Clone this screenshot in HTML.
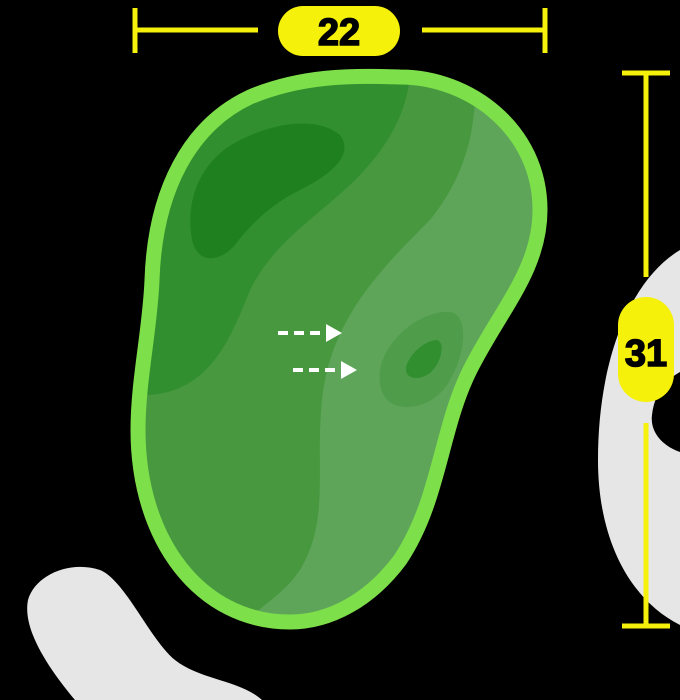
<!DOCTYPE html>
<html><head><style>html,body{margin:0;padding:0;background:#000;width:680px;height:700px;overflow:hidden}</style></head>
<body>
<svg width="680" height="700" viewBox="0 0 680 700" xmlns="http://www.w3.org/2000/svg">
<rect width="680" height="700" fill="#000"/>
<defs>
<clipPath id="g"><path d="M400,77 C470,77 540,130 540,210 C540,270 500,310 470,370 C440,430 440,500 400,560 C370,600 330,622 290,622 C200,622 138,540 138,430 C138,380 150,330 152,280 C155,190 190,125 250,97 C300,76 350,75 400,77 Z"/></clipPath>
</defs>
<path d="M680,250 C630,280 598,360 598,460 C598,540 630,600 680,625 L680,452 C660,445 650,430 652,415 C654,395 665,380 680,372 Z" fill="#e6e6e6"/>
<path d="M28,600 C35,575 70,560 100,570 C125,580 150,640 175,660 C200,680 240,680 262,700 L75,700 C50,670 22,630 28,600 Z" fill="#e6e6e6"/>
<g clip-path="url(#g)">
<rect x="120" y="60" width="440" height="580" fill="#5ea55a"/>
<path d="M120,60 L475,60 C478,120 470,170 430,220 C380,270 330,320 322,400 C315,470 330,520 300,570 C280,600 250,610 230,640 L120,640 Z" fill="#47983f"/>
<path d="M120,60 L410,60 C412,100 395,140 355,180 C320,215 275,240 250,290 C230,340 210,390 150,395 L120,395 Z" fill="#318f2f"/>
<path d="M192,240 C185,200 200,160 240,140 C280,120 320,118 340,135 C355,155 330,175 300,190 C270,205 250,225 235,245 C220,262 198,265 192,240 Z" fill="#1f801f"/>
<path d="M380,370 C385,340 420,310 450,312 C470,315 465,355 450,380 C440,400 415,412 395,405 C382,400 378,385 380,370 Z" fill="#4f9d4a"/>
<path d="M406,368 C408,355 425,340 437,340 C445,342 442,360 433,370 C425,380 405,382 406,368 Z" fill="#318f2f"/>
</g>
<path d="M400,77 C470,77 540,130 540,210 C540,270 500,310 470,370 C440,430 440,500 400,560 C370,600 330,622 290,622 C200,622 138,540 138,430 C138,380 150,330 152,280 C155,190 190,125 250,97 C300,76 350,75 400,77 Z" fill="none" stroke="#7ddf4a" stroke-width="15"/>
<g stroke="#fff" stroke-width="4" stroke-dasharray="10,6">
<line x1="278" y1="333" x2="328" y2="333"/>
<line x1="293" y1="370" x2="343" y2="370"/>
</g>
<polygon points="326,324 342,333 326,342" fill="#fff"/>
<polygon points="341,361 357,370 341,379" fill="#fff"/>
<g stroke="#f5f10a" stroke-width="5" fill="none">
<line x1="135" y1="8" x2="135" y2="53"/>
<line x1="545" y1="8" x2="545" y2="53"/>
<line x1="135" y1="30" x2="258" y2="30"/>
<line x1="422" y1="30" x2="545" y2="30"/>
<line x1="622" y1="73" x2="670" y2="73"/>
<line x1="622" y1="626" x2="670" y2="626"/>
<line x1="646" y1="73" x2="646" y2="277"/>
<line x1="646" y1="423" x2="646" y2="626"/>
</g>
<rect x="278" y="6" width="122" height="50" rx="25" fill="#f5f10a"/>
<text x="339" y="45" text-anchor="middle" font-family="Liberation Sans, sans-serif" font-weight="bold" font-size="38" fill="#000" stroke="#000" stroke-width="1.5">22</text>
<rect x="618" y="297" width="56" height="105" rx="28" fill="#f5f10a"/>
<text x="646" y="366" text-anchor="middle" font-family="Liberation Sans, sans-serif" font-weight="bold" font-size="38" fill="#000" stroke="#000" stroke-width="1.5">31</text>
</svg>
</body></html>
